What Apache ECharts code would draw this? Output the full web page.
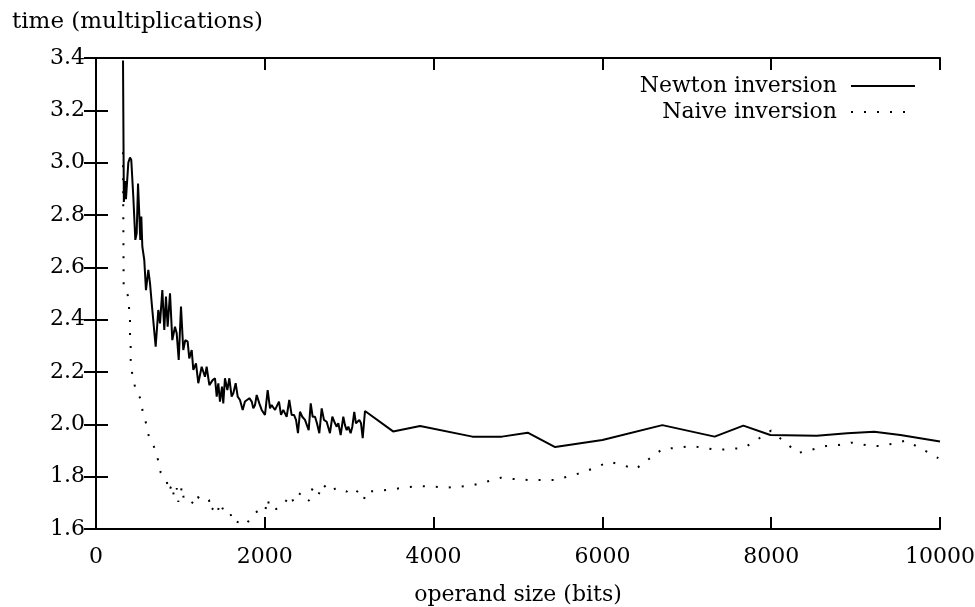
<!DOCTYPE html>
<html><head><meta charset="utf-8">
<script src="https://cdn.jsdelivr.net/npm/echarts@6/dist/echarts.min.js"></script>
<style>html,body{margin:0;padding:0;background:#fff}#c{width:975px;height:607px}</style>
</head><body><div id="c"></div>
<script>
// Newton inversion (operand size in bits, time in multiplications)
const newtonSize = [320,330,345,355,383,403,418,442,466,482,498,509,525,537,549,572,592,620,640,660,679,707,738,758,786,809,829,849,877,904,936,956,980,1007,1034,1058,1086,1105,1134,1153,1185,1212,1252,1291,1311,1343,1382,1410,1430,1449,1469,1493,1508,1528,1556,1580,1607,1627,1655,1679,1706,1738,1765,1785,1817,1845,1864,1884,1904,1935,1963,2002,2034,2062,2081,2101,2121,2141,2168,2192,2219,2239,2259,2290,2318,2346,2370,2393,2417,2444,2476,2496,2520,2544,2567,2595,2618,2646,2674,2701,2733,2752,2772,2800,2832,2852,2871,2899,2930,2950,2970,2990,3017,3037,3060,3080,3100,3120,3140,3160,3187,3520,3840,4460,4810,5115,5440,6000,6710,7330,7670,7990,8540,8900,9220,9530,10000];
const newtonTime = [3.39,2.85,2.93,2.86,3.00,3.02,3.01,2.87,2.705,2.73,2.92,2.92,2.705,2.794,2.679,2.628,2.513,2.59,2.539,2.463,2.456,2.297,2.437,2.386,2.513,2.361,2.488,2.373,2.501,2.322,2.373,2.348,2.246,2.45,2.284,2.322,2.316,2.252,2.284,2.208,2.233,2.157,2.22,2.182,2.22,2.15,2.169,2.176,2.106,2.157,2.087,2.144,2.08,2.176,2.131,2.176,2.106,2.119,2.157,2.106,2.093,2.055,2.087,2.093,2.1,2.087,2.061,2.074,2.112,2.08,2.055,2.036,2.131,2.061,2.074,2.068,2.055,2.048,2.087,2.036,2.055,2.042,2.029,2.093,2.036,2.036,2.017,1.966,2.048,2.029,2.017,2.023,1.978,2.08,2.029,2.029,2.004,1.966,2.061,2.017,2.01,2.004,1.966,2.029,2.004,1.991,2.004,1.959,2.029,1.997,1.978,1.991,1.966,1.991,2.048,2.004,2.01,2.017,2.004,1.947,2.051,1.973,1.994,1.953,1.953,1.968,1.913,1.94,1.997,1.953,1.995,1.959,1.956,1.966,1.972,1.959,1.934];
// Naive inversion
const naiveSize = [320,323,328,376,391,403,403,411,411,427,470,541,553,601,628,687,735,767,838,865,900,924,956,975,1007,1015,1043,1075,1114,1173,1205,1252,1339,1359,1410,1442,1469,1517,1588,1620,1667,1774,1857,1931,2002,2034,2062,2133,2227,2299,2346,2425,2524,2556,2627,2686,2772,2852,2970,3030,3116,3175,3195,3353,3515,3673,3839,3989,4155,4313,4475,4629,4798,4953,5122,5273,5438,5588,5754,5912,6078,6228,6394,6524,6714,6872,7046,7204,7354,7520,7678,7808,7998,8116,8243,8313,8471,8649,8803,8957,9119,9273,9431,9593,9743,9980];
const naiveTime = [3.04,2.826,2.52,2.494,2.447,2.396,2.346,2.294,2.246,2.197,2.131,2.09,2.042,1.997,1.95,1.914,1.864,1.815,1.781,1.743,1.771,1.723,1.756,1.704,1.74,1.762,1.711,1.704,1.708,1.692,1.723,1.708,1.711,1.669,1.688,1.666,1.701,1.666,1.666,1.624,1.628,1.615,1.653,1.673,1.666,1.715,1.676,1.676,1.696,1.73,1.701,1.739,1.708,1.753,1.723,1.772,1.743,1.758,1.743,1.758,1.739,1.711,1.743,1.746,1.752,1.759,1.764,1.762,1.758,1.762,1.768,1.781,1.796,1.791,1.787,1.787,1.787,1.8,1.815,1.834,1.857,1.845,1.829,1.861,1.906,1.91,1.917,1.91,1.902,1.906,1.91,1.936,1.976,1.944,1.91,1.89,1.902,1.917,1.921,1.93,1.921,1.917,1.925,1.938,1.913,1.871];

const FONT = '"DejaVu Serif", serif';
const zip = (a, b) => a.map((v, i) => [v, b[i]]);
const chart = echarts.init(document.getElementById('c'));
const lineAxis = {lineStyle: {color: '#000', width: 2}};
const tick = {show: true, inside: true, length: 12, lineStyle: {color: '#000', width: 2}};
const label = {color: '#000', fontFamily: FONT, fontSize: 22};
chart.setOption({
  animation: false,
  title: {text: 'time (multiplications)', left: 7, top: 6,
    textStyle: {fontFamily: FONT, fontSize: 23, fontWeight: 'normal', color: '#000'}},
  grid: {left: 96, right: 35, top: 58, bottom: 78, containLabel: false, outerBoundsMode: 'none'},
  legend: {
    orient: 'vertical', right: 54, top: 70, align: 'right',
    itemWidth: 64, itemHeight: 14, itemGap: 4,
    itemStyle: {opacity: 0},
    textStyle: {fontFamily: FONT, fontSize: 22, color: '#000', padding: [0, 9, 0, 0]},
    data: ['Newton inversion', 'Naive inversion']
  },
  xAxis: [
    {type: 'value', min: 0, max: 10000, interval: 2000, position: 'bottom',
      name: 'operand size (bits)', nameLocation: 'middle', nameGap: 55,
      nameTextStyle: {fontFamily: FONT, fontSize: 22, color: '#000'},
      axisLine: lineAxis, axisTick: tick, splitLine: {show: false},
      axisLabel: Object.assign({margin: 17, formatter: v => String(v)}, label)},
    {type: 'value', min: 0, max: 10000, interval: 2000, position: 'top',
      axisLine: lineAxis, axisTick: tick, splitLine: {show: false}, axisLabel: {show: false}}
  ],
  yAxis: [
    {type: 'value', min: 1.6, max: 3.4, interval: 0.2, position: 'left',
      axisLine: Object.assign({show: true}, lineAxis), axisTick: tick, splitLine: {show: false},
      axisLabel: Object.assign({margin: 11, formatter: v => v.toFixed(1)}, label)},
    {type: 'value', min: 1.6, max: 3.4, interval: 0.2, position: 'right',
      axisLine: Object.assign({show: true}, lineAxis), axisTick: tick, splitLine: {show: false}, axisLabel: {show: false}}
  ],
  series: [
    {type: 'line', name: 'Newton inversion', data: zip(newtonSize, newtonTime),
      symbol: 'none', lineStyle: {color: '#000', width: 2}, itemStyle: {color: '#000'}},
    {type: 'line', name: 'Naive inversion', data: zip(naiveSize, naiveTime),
      symbol: 'none', lineStyle: {color: '#000', width: 2, type: [2, 11], cap: 'butt'}, itemStyle: {color: '#000'}}
  ]
});
</script></body></html>
